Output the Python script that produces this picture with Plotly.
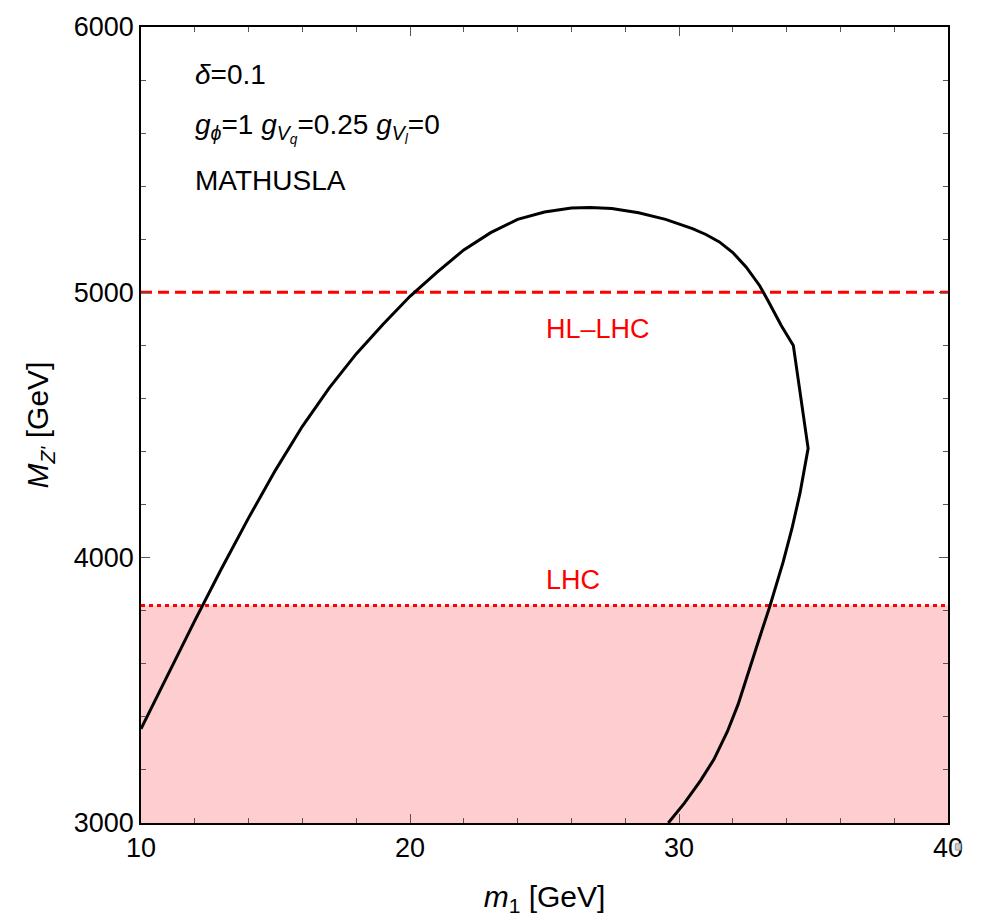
import plotly.graph_objects as go

# Contour (MATHUSLA sensitivity)
m1 = [10.0, 11.0, 12.0, 13.0, 14.0, 15.0, 16.0, 17.0, 18.0, 19.0, 20.0, 21.0,
      22.0, 23.0, 24.0, 25.0, 26.0, 26.7, 27.5, 28.5, 29.5, 30.5, 31.0, 31.5, 32.0,
      32.5, 33.0, 33.3, 33.8, 34.25, 34.8, 34.5, 34.2, 33.87, 33.38, 33.0, 32.6,
      32.2, 31.8, 31.3, 30.8, 30.2, 29.6]
mz = [3355, 3560, 3763, 3960, 4150, 4330, 4495, 4640, 4768, 4880, 4985, 5075,
      5160, 5225, 5275, 5303, 5318, 5320, 5316, 5300, 5275, 5240, 5218, 5190, 5150,
      5095, 5025, 4970, 4875, 4800, 4412, 4244, 4110, 3983, 3818, 3700, 3570,
      3448, 3345, 3240, 3160, 3075, 3000]

x_range = [10, 40]
y_range = [3000, 6000]
lhc_limit = 3820
hllhc_limit = 5000

fig = go.Figure()

# Excluded region (LHC)
fig.add_trace(go.Scatter(x=[x_range[0], x_range[1], x_range[1], x_range[0], x_range[0]],
                         y=[y_range[0], y_range[0], lhc_limit, lhc_limit, y_range[0]],
                         fill="toself", fillcolor="rgb(253,205,207)", mode="lines",
                         line=dict(width=0), hoverinfo="skip", showlegend=False))
fig.add_trace(go.Scatter(x=x_range, y=[lhc_limit, lhc_limit], mode="lines",
                         line=dict(color="red", width=3, dash="4px,4px"), showlegend=False))
fig.add_trace(go.Scatter(x=x_range, y=[hllhc_limit, hllhc_limit], mode="lines",
                         line=dict(color="red", width=3, dash="11px,6px"), showlegend=False))
fig.add_trace(go.Scatter(x=m1, y=mz, mode="lines",
                         line=dict(color="black", width=3), showlegend=False))

font = "Liberation Sans, Arial, sans-serif"
fig.add_annotation(x=27.0, y=4860, text="HL\u2013LHC", showarrow=False,
                   font=dict(color="red", size=27, family=font))
fig.add_annotation(x=26.06, y=3916, text="LHC", showarrow=False,
                   font=dict(color="red", size=27, family=font))

texts = ["<i>\u03b4</i>=0.1",
         "<i>g</i><sub><i>\u03d5</i></sub>=1 <i>g</i><sub><i>V<sub>q</sub></i></sub>=0.25 <i>g</i><sub><i>V<sub>l</sub></i></sub>=0",
         "MATHUSLA"]
ys = [5822, 5620, 5420]
for t, yy in zip(texts, ys):
    fig.add_annotation(x=11.95, y=yy, text=t, showarrow=False, xanchor="left",
                       font=dict(color="black", size=28, family=font))

axis_common = dict(showline=True, linecolor="black", linewidth=1.5, mirror="ticks",
                   ticks="inside", ticklen=9, tickcolor="#555", tickwidth=1,
                   showgrid=False, zeroline=False,
                   tickfont=dict(size=27, color="black", family=font))
fig.update_xaxes(range=x_range, tick0=10, dtick=10,
                 minor=dict(ticks="inside", dtick=2, ticklen=5, tickcolor="#555", showgrid=False),
                 title=dict(text="<i>m</i><sub>1</sub> [GeV]", font=dict(size=30, family=font, color="black"),
                            standoff=24),
                 **axis_common)
fig.update_yaxes(range=y_range, tick0=3000, dtick=1000,
                 minor=dict(ticks="inside", dtick=200, ticklen=5, tickcolor="#555", showgrid=False),
                 title=dict(text="<i>M</i><sub><i>Z'</i></sub> [GeV]", font=dict(size=30, family=font, color="black"),
                            standoff=16),
                 **axis_common)

# small grey marker next to the last x tick label (as in the reference)
fig.add_shape(type="rect", xref="paper", yref="paper", x0=1.009, x1=1.016, y0=-0.034, y1=-0.026,
              line=dict(color="#999", width=1), fillcolor="#ccc")

fig.update_layout(width=988, height=924, margin=dict(l=141, r=40, t=20, b=101),
                  plot_bgcolor="white", paper_bgcolor="white", font=dict(family=font))

fig.write_html("out.html")
